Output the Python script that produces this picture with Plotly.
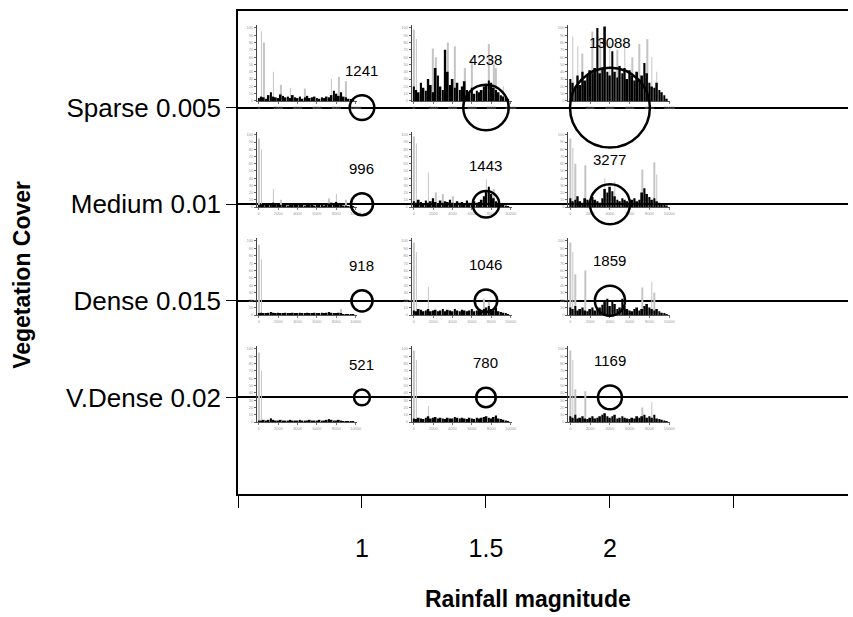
import math
import plotly.graph_objects as go

# ---------------- data ----------------
rain_magnitude = [1, 1.5, 2]
rain_ticks = [0.5, 1, 1.5, 2, 2.5]
rain_ticktext = ["", "1", "1.5", "2", ""]
cover_labels = ["Sparse 0.005", "Medium 0.01", "Dense 0.015", "V.Dense 0.02"]
cover_pos = [4, 3, 2, 1]

peak_sparse = [1241, 4238, 13088]
peak_medium = [996, 1443, 3277]
peak_dense = [918, 1046, 1859]
peak_vdense = [521, 780, 1169]

# inset histograms (relative heights, 0-100), 40 bins each
hist_sparse_1 = [4,6,5,3,8,12,6,5,4,9,7,5,6,4,8,5,4,6,3,5,7,4,5,6,4,3,5,4,6,5,8,14,10,7,12,6,5,3,2,1]
hist_sparse_15 = [20,15,12,25,18,14,30,22,12,45,35,20,15,70,40,22,30,18,25,15,20,27,15,12,18,10,14,12,15,20,22,28,25,18,15,12,8,6,4,2]
hist_sparse_2 = [30,25,20,35,22,40,28,35,42,38,45,100,38,45,102,40,35,68,40,32,48,38,45,30,42,35,28,40,30,35,52,38,25,20,18,25,15,12,8,3]
hist_medium_1 = [3,4,3,5,4,3,6,4,5,3,4,3,2,4,3,5,3,4,3,2,3,4,3,2,3,4,3,2,4,5,6,4,7,5,3,2,2,1,1,1]
hist_medium_15 = [8,6,10,7,5,9,6,8,12,7,5,9,6,8,7,10,6,5,8,6,7,5,9,6,5,8,6,7,10,15,22,28,18,12,8,6,4,3,2,1]
hist_medium_2 = [12,8,10,15,8,6,12,10,8,14,10,8,6,12,25,20,28,22,15,10,8,12,10,8,6,10,12,8,10,20,26,18,14,10,12,8,6,4,3,2]
hist_dense_1 = [2,3,2,2,3,4,3,2,3,2,2,3,2,2,3,2,2,3,2,2,3,2,2,3,2,2,3,2,3,4,3,2,2,3,2,1,1,1,1,1]
hist_dense_15 = [6,5,8,7,5,6,8,5,6,7,5,6,8,5,7,6,5,8,6,5,7,6,5,6,8,5,6,7,5,8,10,12,8,6,10,5,4,3,2,1]
hist_dense_2 = [10,8,12,6,8,10,6,5,8,10,6,8,10,14,18,22,12,20,15,8,10,22,12,8,6,5,8,10,6,8,12,15,10,8,6,8,5,3,2,1]
hist_vdense_1 = [2,2,3,2,3,5,3,2,2,3,2,2,2,3,2,2,2,3,2,2,2,3,2,2,2,3,2,2,3,4,3,2,2,3,2,1,1,1,1,1]
hist_vdense_15 = [5,4,6,5,4,6,8,5,6,7,5,6,5,4,6,5,5,7,6,5,6,5,4,6,5,4,6,5,6,7,8,6,5,7,9,5,4,3,2,1]
hist_vdense_2 = [8,6,10,5,6,8,5,4,6,8,5,6,8,10,12,8,6,8,10,5,6,8,6,5,4,6,5,8,6,8,10,6,8,6,10,5,4,3,2,1]

# faint grey spikes in the insets: bin positions and heights
spike_sparse_1_pos = [1, 2, 6, 9, 13, 19, 30, 33, 36]
spike_sparse_1_h = [95, 80, 40, 22, 18, 17, 30, 33, 27]
spike_sparse_15_pos = [0, 1, 8, 9, 14, 17, 21, 24, 31, 33, 34, 37]
spike_sparse_15_h = [98, 85, 72, 60, 80, 75, 45, 55, 78, 50, 45, 20]
spike_sparse_2_pos = [1, 3, 5, 9, 12, 16, 19, 22, 25, 28, 31, 33, 35]
spike_sparse_2_h = [88, 75, 65, 95, 85, 80, 70, 88, 60, 78, 85, 60, 40]
spike_medium_1_pos = [0, 1, 6, 9, 29, 32, 36]
spike_medium_1_h = [95, 80, 25, 10, 12, 18, 10]
spike_medium_15_pos = [0, 1, 6, 9, 12, 16, 30, 33]
spike_medium_15_h = [98, 88, 48, 20, 18, 15, 38, 25]
spike_medium_2_pos = [0, 1, 2, 6, 14, 18, 29, 34, 35]
spike_medium_2_h = [95, 82, 60, 58, 40, 35, 52, 62, 45]
spike_dense_1_pos = [0, 1, 34]
spike_dense_1_h = [95, 75, 8]
spike_dense_15_pos = [0, 1, 6, 29, 31, 34]
spike_dense_15_h = [98, 85, 38, 22, 18, 14]
spike_dense_2_pos = [0, 1, 2, 6, 29, 33, 34]
spike_dense_2_h = [98, 85, 55, 60, 37, 45, 30]
spike_vdense_1_pos = [0, 1]
spike_vdense_1_h = [95, 70]
spike_vdense_15_pos = [0, 1, 6]
spike_vdense_15_h = [98, 85, 22]
spike_vdense_2_pos = [0, 1, 2, 6, 29, 33]
spike_vdense_2_h = [98, 85, 45, 42, 20, 27]

# ---------------- figure ----------------
FONT = "Liberation Sans, Arial, sans-serif"
SIZEREF = 4.1
LINE_W = 2.5
X_RANGE = [0.5, 2.96]
Y_RANGE = [0, 5]

fig = go.Figure()

peaks = [peak_sparse, peak_medium, peak_dense, peak_vdense]
bx, by, bv = [], [], []
for row, vals in zip(cover_pos, peaks):
    for r, v in zip(rain_magnitude, vals):
        bx.append(r)
        by.append(row)
        bv.append(v)

hists = [
    [hist_sparse_1, hist_sparse_15, hist_sparse_2],
    [hist_medium_1, hist_medium_15, hist_medium_2],
    [hist_dense_1, hist_dense_15, hist_dense_2],
    [hist_vdense_1, hist_vdense_15, hist_vdense_2],
]
spikes = [
    [(spike_sparse_1_pos, spike_sparse_1_h), (spike_sparse_15_pos, spike_sparse_15_h), (spike_sparse_2_pos, spike_sparse_2_h)],
    [(spike_medium_1_pos, spike_medium_1_h), (spike_medium_15_pos, spike_medium_15_h), (spike_medium_2_pos, spike_medium_2_h)],
    [(spike_dense_1_pos, spike_dense_1_h), (spike_dense_15_pos, spike_dense_15_h), (spike_dense_2_pos, spike_dense_2_h)],
    [(spike_vdense_1_pos, spike_vdense_1_h), (spike_vdense_15_pos, spike_vdense_15_h), (spike_vdense_2_pos, spike_vdense_2_h)],
]

# inset placement (paper fractions)
col_dom = [[0.031, 0.195], [0.285, 0.449], [0.5415, 0.709]]
row_dom = [[0.8137, 0.971], [0.5942, 0.7495], [0.3706, 0.530], [0.149, 0.3064]]

layout_axes = {}
n = 2
for ri in range(4):
    for ci in range(3):
        h = hists[ri][ci]
        sp, sh = spikes[ri][ci]
        xa = "x%d" % n
        ya = "y%d" % n
        fig.add_trace(go.Bar(x=sp, y=sh, xaxis=xa, yaxis=ya, width=0.3,
                             marker=dict(color="#c4c4c4", line=dict(width=0)),
                             showlegend=False, hoverinfo="skip"))
        fig.add_trace(go.Bar(x=list(range(len(h))), y=h, xaxis=xa, yaxis=ya, width=0.75,
                             marker=dict(color="black", line=dict(width=0)),
                             showlegend=False, hoverinfo="skip"))
        layout_axes["xaxis%d" % n] = dict(
            domain=col_dom[ci], anchor=ya, range=[-0.8, 40.5],
            showgrid=False, zeroline=False, showline=True, linecolor="#555", linewidth=1,
            ticks="outside", ticklen=2, tickcolor="#777", tickvals=[0, 8, 16, 24, 32, 40],
            ticktext=["0", "2000", "4000", "6000", "8000", "10000"],
            tickfont=dict(size=4, color="#999", family=FONT))
        layout_axes["yaxis%d" % n] = dict(
            domain=row_dom[ri], anchor=xa, range=[0, 104],
            showgrid=False, zeroline=False, showline=True, linecolor="#444", linewidth=1,
            ticks="outside", ticklen=2, tickcolor="#666", dtick=10,
            tickfont=dict(size=4, color="#999", family=FONT))
        n += 1

# bubbles on a top-most full-size subplot sharing the main ranges
top_x = "x%d" % n
top_y = "y%d" % n
fig.add_trace(go.Scatter(
    x=bx, y=by, mode="markers",
    marker=dict(size=bv, sizemode="area", sizeref=SIZEREF, opacity=1,
                color="rgba(0,0,0,0)", line=dict(color="black", width=LINE_W)),
    showlegend=False, hoverinfo="skip", xaxis=top_x, yaxis=top_y, cliponaxis=False))
layout_axes["xaxis%d" % n] = dict(domain=[0, 1], anchor=top_y, range=X_RANGE, visible=False)
layout_axes["yaxis%d" % n] = dict(domain=[0, 1], anchor=top_x, range=Y_RANGE, visible=False)

annotations = []
for x, y, v in zip(bx, by, bv):
    r = math.sqrt(v / (2 * SIZEREF))
    annotations.append(dict(x=x, y=y, xref="x", yref="y", text=str(v), showarrow=False,
                            yshift=r + 25, font=dict(size=15, color="black", family=FONT)))

annotations.append(dict(text="<b>Rainfall magnitude</b>", xref="paper", yref="paper",
                        x=0.475, y=-0.218, xanchor="center", yanchor="middle", showarrow=False,
                        font=dict(size=23, color="black", family=FONT)))
annotations.append(dict(text="<b>Vegetation Cover</b>", xref="paper", yref="paper",
                        x=-0.353, y=0.453, xanchor="center", yanchor="middle", showarrow=False,
                        textangle=-90, font=dict(size=23, color="black", family=FONT)))

fig.update_layout(
    width=853, height=617,
    margin=dict(l=238, r=0, t=11, b=123),
    paper_bgcolor="white", plot_bgcolor="rgba(0,0,0,0)",
    barmode="overlay", showlegend=False,
    annotations=annotations,
    xaxis=dict(range=X_RANGE, tickvals=rain_ticks, ticktext=rain_ticktext,
               ticks="outside", ticklen=12, tickcolor="black", tickwidth=1,
               showline=True, linecolor="black", linewidth=1.5, mirror=True,
               showgrid=False, zeroline=False, ticklabelstandoff=19,
               tickfont=dict(size=25, color="black", family=FONT)),
    yaxis=dict(range=Y_RANGE, tickvals=cover_pos, ticktext=cover_labels,
               ticks="outside", ticklen=10, tickcolor="black", tickwidth=1,
               showline=True, linecolor="black", linewidth=1.5,
               showgrid=True, gridcolor="black", gridwidth=1.5, zeroline=False,
               tickfont=dict(size=26, color="black", family=FONT)),
    **layout_axes,
)

fig.write_html("out.html", config={"displayModeBar": False},
               post_script="document.body.style.margin='0';")
